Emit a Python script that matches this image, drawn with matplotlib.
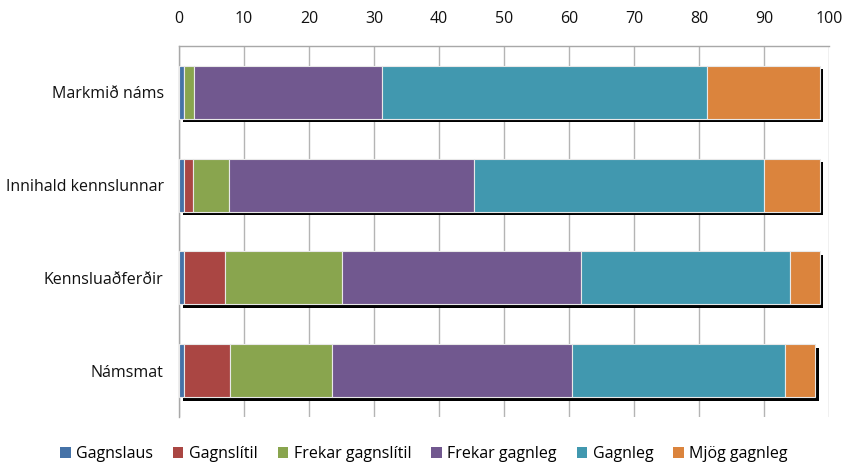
import matplotlib
matplotlib.use("Agg")
import matplotlib.pyplot as plt
import matplotlib.transforms as mtransforms
from matplotlib.patches import Patch
import numpy as np

plt.rcParams['font.family'] = ['Open Sans', 'DejaVu Sans']

categories = ["Markmið náms", "Innihald kennslunnar", "Kennsluaðferðir", "Námsmat"]
series_names = ["Gagnslaus", "Gagnslítil", "Frekar gagnslítil", "Frekar gagnleg", "Gagnleg", "Mjög gagnleg"]
gagnslaus = [0.7, 0.7, 0.7, 0.7]
gagnslitil = [0.0, 1.5, 6.3, 7.1]
frekar_gagnslitil = [1.6, 5.5, 18.0, 15.7]
frekar_gagnleg = [28.9, 37.7, 36.8, 36.9]
gagnleg = [50.0, 44.6, 32.2, 32.8]
mjog_gagnleg = [17.4, 8.6, 4.6, 4.7]
series = [gagnslaus, gagnslitil, frekar_gagnslitil, frekar_gagnleg, gagnleg, mjog_gagnleg]
colors = ["#4572A7", "#AA4643", "#89A54E", "#71588F", "#4198AF", "#DB843D"]
xticks = [0, 10, 20, 30, 40, 50, 60, 70, 80, 90, 100]

fig = plt.figure(figsize=(8.48, 4.66), dpi=100)
ax = fig.add_axes([179/848, 1-417/466, 650/848, 371/466])

y = np.arange(len(categories))
h = 0.57
totals = np.sum(np.array(series), axis=0)

# shadow
shadow = ax.barh(y, totals, height=h, color="black", zorder=2, linewidth=0)
off = mtransforms.ScaledTranslation(3.5/100, -3.5/100, fig.dpi_scale_trans)
for p in shadow.patches:
    p.set_transform(ax.transData + off)

left = np.zeros(len(categories))
for vals, col in zip(series, colors):
    ax.barh(y, vals, left=left, height=h, color=col, edgecolor="#e8e8e8",
            linewidth=0.8, zorder=3)
    left += np.array(vals)

fs = 11.5
ax.set_xlim(0, 100)
ax.set_ylim(3.5, -0.5)
ax.set_xticks(xticks)
ax.xaxis.tick_top()
ax.tick_params(axis='x', length=0, pad=14, labelsize=fs, colors="#111111")
ax.tick_params(axis='y', length=0, pad=11, labelsize=fs, colors="#111111")
ax.set_yticks(y)
ax.set_yticklabels(categories)
ax.grid(axis='x', color="#b4b4b4", linewidth=1, zorder=0)
ax.set_axisbelow(True)
for s in ["right", "bottom"]:
    ax.spines[s].set_visible(False)
for s in ["top", "left"]:
    ax.spines[s].set_color("#a8a8a8")
    ax.spines[s].set_linewidth(1)

handles = [Patch(facecolor=c, edgecolor='none', label=n) for c, n in zip(colors, series_names)]
fig.legend(handles=handles, loc='center', bbox_to_anchor=(0.5, 1-454/466), ncol=6,
           frameon=False, fontsize=fs, handlelength=0.65, handleheight=0.65,
           handletextpad=0.35, columnspacing=1.25)

fig.savefig("out.png", dpi=100)
